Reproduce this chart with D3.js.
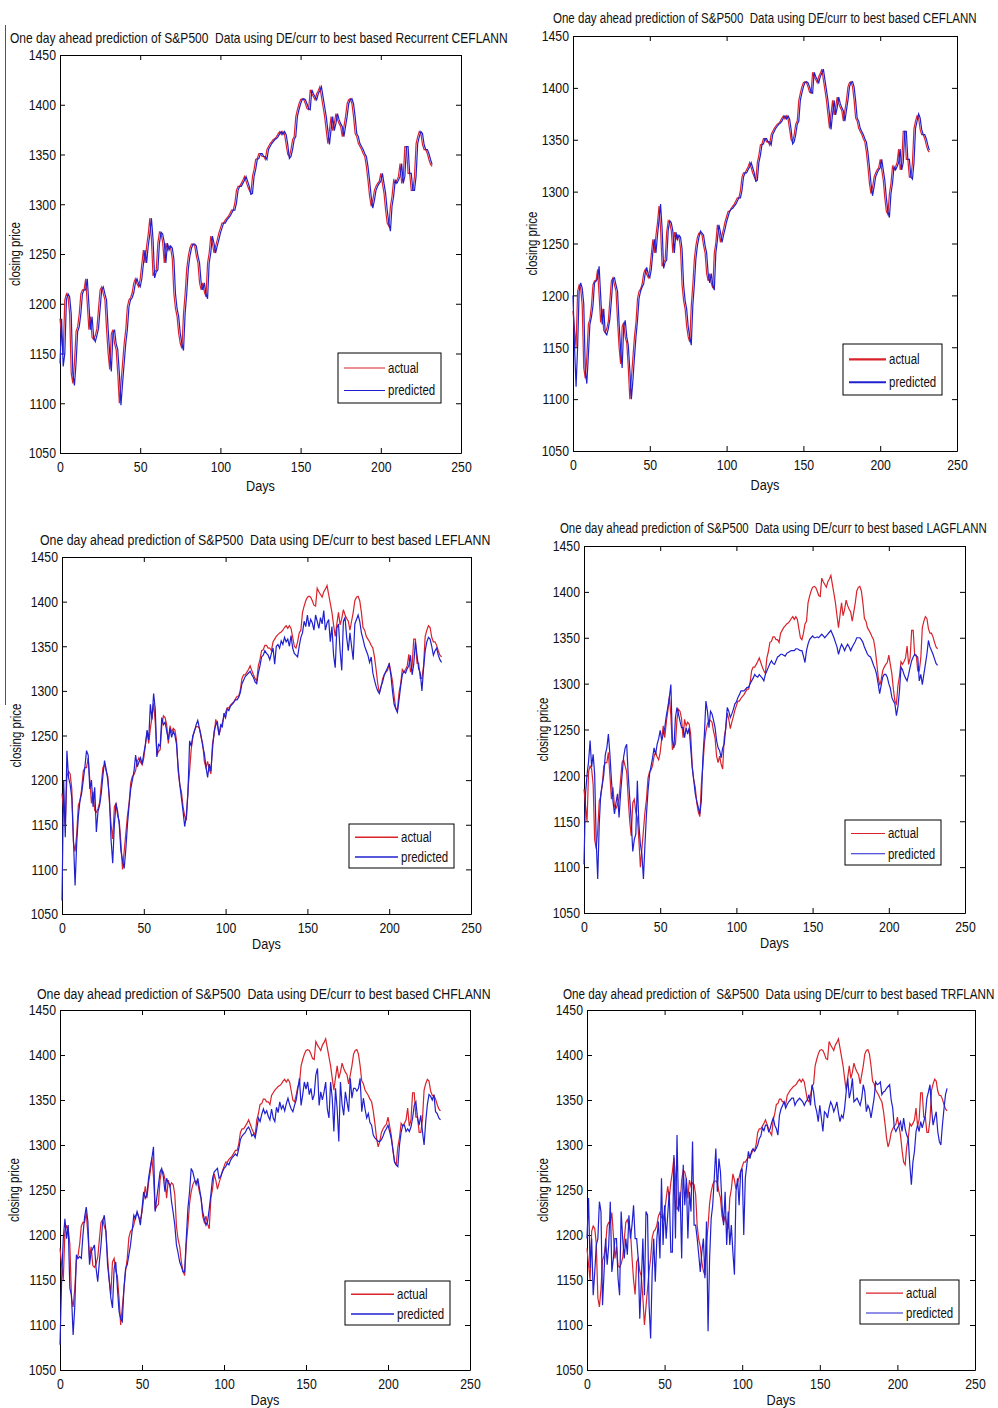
<!DOCTYPE html>
<html>
<head>
<meta charset="utf-8">
<script src="https://cdn.jsdelivr.net/npm/d3@7"></script>
<style>
  body { margin: 0; background: #fff; }
  text { font-family: "Liberation Sans", Arial, sans-serif; fill: #111; }
  .axis path, .axis line { stroke: #000; stroke-width: 1; }
</style>
</head>
<body>
<svg id="chart" width="998" height="1408"></svg>
<script>
// ----------------------------------------------
// Data
// ----------------------------------------------
const actualClose = [
  1185,1167,1150,1204,1210,1207,1190,1130,1120,1140,
  1172,1177,1190,1210,1214,1214,1225,1200,1174,1187,
  1166,1164,1168,1175,1195,1214,1217,1210,1204,1175,
  1150,1134,1170,1174,1160,1154,1130,1100,1120,1140,
  1160,1174,1197,1204,1206,1211,1221,1225,1220,1217,
  1225,1240,1254,1241,1258,1270,1286,1265,1228,1232,
  1234,1261,1272,1270,1262,1241,1261,1254,1258,1256,
  1245,1210,1195,1187,1170,1160,1155,1190,1210,1235,
  1248,1256,1260,1260,1258,1248,1241,1221,1214,1221,
  1212,1207,1241,1251,1268,1261,1251,1258,1264,1271,
  1276,1281,1281,1284,1286,1288,1291,1294,1294,1301,
  1314,1318,1318,1321,1324,1328,1323,1318,1314,1311,
  1328,1335,1345,1346,1351,1351,1348,1348,1345,1355,
  1358,1361,1363,1365,1366,1368,1371,1373,1370,1373,
  1370,1360,1350,1348,1355,1365,1368,1388,1395,1401,
  1405,1406,1405,1401,1396,1395,1415,1411,1408,1405,
  1411,1414,1418,1408,1398,1388,1374,1361,1375,1388,
  1374,1381,1391,1385,1381,1378,1368,1378,1388,1401,
  1405,1406,1401,1388,1371,1368,1361,1358,1355,1351,
  1348,1338,1324,1308,1298,1304,1314,1318,1321,1323,
  1331,1321,1311,1294,1281,1278,1298,1308,1324,1321,
  1324,1328,1341,1321,1328,1358,1358,1331,1331,1314,
  1314,1328,1361,1368,1373,1371,1360,1355,1355,1351,
  1345,1340,1338
];

const predRecurrentCEFLANN = [
  1140,1185,1137,1150,1204,1210,1207,1190,1130,1118,
  1140,1172,1177,1190,1210,1214,1214,1225,1200,1174,
  1187,1166,1162,1168,1175,1195,1214,1217,1210,1204,
  1175,1150,1132,1170,1174,1160,1154,1130,1098,1120,
  1140,1160,1174,1197,1204,1206,1211,1221,1225,1220,
  1217,1225,1240,1254,1241,1258,1270,1286,1265,1226,
  1232,1234,1261,1272,1270,1262,1241,1261,1254,1258,
  1256,1245,1210,1195,1187,1170,1160,1153,1190,1210,
  1235,1248,1256,1260,1260,1258,1248,1241,1221,1214,
  1221,1210,1205,1241,1251,1268,1261,1251,1258,1264,
  1271,1276,1281,1281,1284,1286,1288,1291,1294,1294,
  1301,1314,1318,1318,1321,1324,1328,1323,1318,1310,
  1311,1328,1335,1345,1346,1351,1351,1348,1348,1345,
  1355,1358,1361,1363,1365,1366,1368,1371,1373,1370,
  1373,1370,1360,1346,1348,1355,1365,1368,1388,1395,
  1401,1405,1406,1405,1401,1396,1395,1415,1411,1408,
  1405,1411,1414,1418,1408,1398,1388,1374,1360,1375,
  1388,1374,1381,1391,1385,1381,1378,1368,1378,1388,
  1401,1405,1406,1401,1388,1371,1368,1361,1358,1355,
  1351,1348,1338,1324,1308,1296,1304,1314,1318,1321,
  1323,1331,1321,1311,1294,1281,1273,1298,1308,1324,
  1321,1324,1328,1341,1321,1328,1358,1358,1331,1331,
  1314,1314,1328,1361,1368,1373,1371,1360,1355,1355,
  1351,1345,1340
];

const predCEFLANN = [
  1200,1150,1112,1150,1204,1212,1207,1192,1128,1115,
  1142,1172,1179,1190,1212,1214,1216,1228,1200,1172,
  1187,1164,1162,1168,1177,1195,1216,1217,1210,1204,
  1173,1148,1130,1170,1176,1160,1152,1128,1100,1118,
  1140,1160,1176,1197,1204,1208,1211,1221,1227,1220,
  1217,1225,1242,1254,1241,1258,1272,1288,1265,1226,
  1232,1234,1263,1272,1270,1262,1241,1261,1254,1258,
  1256,1245,1210,1195,1187,1170,1160,1152,1190,1210,
  1235,1248,1256,1262,1260,1258,1248,1241,1221,1212,
  1221,1210,1205,1241,1253,1268,1261,1251,1258,1264,
  1271,1276,1281,1283,1284,1286,1288,1291,1294,1294,
  1301,1314,1318,1318,1321,1324,1328,1323,1318,1310,
  1311,1328,1335,1345,1346,1351,1351,1348,1348,1345,
  1355,1358,1361,1363,1365,1366,1368,1371,1373,1370,
  1373,1370,1360,1346,1348,1355,1365,1368,1388,1395,
  1401,1405,1406,1405,1401,1396,1395,1415,1411,1408,
  1405,1411,1414,1418,1408,1398,1388,1374,1360,1375,
  1388,1374,1381,1391,1385,1381,1378,1368,1378,1388,
  1401,1405,1406,1401,1388,1371,1368,1361,1358,1355,
  1351,1348,1338,1324,1308,1296,1304,1314,1318,1321,
  1323,1331,1321,1311,1294,1281,1275,1298,1308,1324,
  1321,1324,1328,1341,1321,1328,1358,1358,1331,1331,
  1314,1312,1328,1361,1368,1375,1371,1360,1355,1355,
  1351,1345,1340
];

const predLEFLANN = [
  1065,1200,1136,1233,1203,1195,1180,1133,1082,1130,
  1160,1177,1185,1200,1215,1233,1228,1190,1200,1170,
  1192,1142,1165,1172,1185,1205,1222,1212,1200,1180,
  1133,1107,1150,1174,1165,1150,1121,1110,1101,1122,
  1150,1172,1190,1200,1210,1228,1215,1220,1225,1218,
  1230,1240,1256,1245,1285,1268,1297,1280,1226,1240,
  1238,1270,1262,1265,1255,1245,1258,1248,1255,1250,
  1240,1215,1195,1180,1165,1148,1160,1185,1244,1238,
  1250,1255,1262,1267,1258,1250,1238,1230,1215,1203,
  1218,1210,1235,1255,1262,1265,1250,1262,1260,1275,
  1270,1280,1278,1283,1285,1287,1290,1290,1293,1298,
  1308,1312,1316,1318,1320,1322,1318,1315,1310,1308,
  1320,1328,1338,1340,1345,1342,1340,1335,1342,1348,
  1330,1350,1352,1348,1356,1352,1360,1355,1358,1350,
  1362,1348,1342,1340,1338,1350,1360,1365,1378,1372,
  1385,1372,1380,1376,1368,1385,1378,1370,1382,1375,
  1390,1368,1376,1380,1355,1372,1340,1326,1370,1375,
  1345,1323,1378,1382,1360,1345,1365,1350,1335,1375,
  1380,1385,1378,1365,1358,1350,1345,1340,1332,1338,
  1320,1312,1305,1300,1297,1305,1310,1318,1322,1326,
  1330,1318,1300,1285,1280,1276,1290,1305,1318,1322,
  1320,1325,1328,1340,1318,1330,1355,1340,1325,1320,
  1300,1325,1345,1355,1360,1358,1350,1340,1345,1348,
  1340,1335,1332
];

const predLAGFLANN = [
  1103,1180,1201,1215,1238,1209,1223,1201,1129,1087,
  1147,1180,1190,1201,1223,1230,1245,1223,1195,1172,
  1158,1170,1180,1154,1180,1201,1220,1230,1234,1201,
  1175,1150,1117,1130,1136,1194,1147,1125,1114,1087,
  1125,1158,1183,1201,1210,1219,1230,1223,1234,1240,
  1249,1238,1245,1252,1265,1274,1285,1299,1238,1230,
  1263,1274,1267,1259,1252,1252,1241,1252,1245,1252,
  1230,1209,1195,1180,1172,1165,1158,1172,1219,1245,
  1281,1270,1252,1270,1267,1260,1252,1238,1230,1227,
  1219,1230,1234,1252,1274,1270,1263,1267,1272,1278,
  1280,1285,1288,1292,1292,1292,1294,1296,1296,1300,
  1303,1306,1310,1308,1307,1310,1308,1306,1303,1310,
  1314,1318,1322,1325,1322,1321,1325,1329,1330,1332,
  1332,1331,1330,1333,1334,1335,1336,1336,1336,1338,
  1338,1337,1336,1336,1330,1323,1336,1343,1348,1350,
  1352,1350,1350,1351,1350,1352,1354,1352,1350,1352,
  1354,1356,1358,1354,1350,1345,1340,1332,1338,1343,
  1340,1336,1340,1343,1340,1336,1340,1343,1346,1350,
  1350,1350,1348,1345,1340,1336,1332,1330,1329,1325,
  1320,1316,1310,1300,1289,1298,1307,1310,1310,1307,
  1300,1295,1285,1281,1278,1265,1275,1292,1318,1315,
  1310,1306,1303,1310,1318,1325,1329,1332,1330,1329,
  1303,1310,1299,1310,1321,1332,1347,1340,1336,1332,
  1327,1322,1320
];

const predCHFLANN = [
  1078,1150,1196,1218,1196,1211,1141,1133,1089,1120,
  1178,1174,1176,1174,1200,1220,1231,1215,1167,1181,
  1185,1189,1163,1148,1170,1189,1215,1222,1204,1167,
  1150,1130,1119,1163,1170,1141,1115,1107,1104,1141,
  1163,1167,1178,1189,1205,1222,1218,1226,1220,1211,
  1229,1248,1241,1245,1263,1275,1285,1298,1226,1241,
  1255,1270,1274,1265,1248,1263,1258,1256,1237,1225,
  1211,1189,1180,1170,1165,1159,1159,1196,1230,1248,
  1274,1270,1262,1256,1263,1252,1241,1226,1218,1211,
  1215,1229,1245,1263,1270,1272,1274,1263,1265,1270,
  1274,1276,1280,1278,1283,1286,1288,1290,1288,1296,
  1306,1310,1312,1314,1318,1320,1316,1310,1312,1308,
  1318,1330,1326,1334,1340,1335,1338,1332,1328,1340,
  1330,1326,1342,1336,1348,1340,1344,1338,1346,1352,
  1345,1340,1337,1344,1350,1362,1374,1344,1356,1370,
  1362,1370,1356,1363,1350,1356,1378,1385,1344,1359,
  1350,1359,1370,1340,1330,1370,1352,1315,1363,1340,
  1304,1370,1345,1333,1359,1348,1337,1374,1352,1363,
  1363,1360,1363,1374,1337,1352,1340,1330,1335,1325,
  1322,1311,1308,1306,1304,1304,1306,1310,1315,1318,
  1322,1315,1307,1295,1281,1278,1276,1300,1314,1322,
  1322,1315,1318,1315,1320,1330,1344,1348,1330,1322,
  1333,1315,1300,1326,1345,1356,1354,1350,1356,1337,
  1335,1330,1328
];

const predTRFLANN = [
  1196,1241,1163,1196,1133,1159,1189,1196,1237,1226,
  1122,1159,1196,1167,1189,1237,1159,1174,1196,1196,
  1152,1133,1226,1196,1174,1196,1178,1222,1196,1211,
  1233,1196,1196,1174,1107,1148,1196,1133,1226,1222,
  1122,1085,1159,1196,1148,1196,1215,1174,1263,1189,
  1233,1196,1222,1248,1181,1181,1289,1196,1311,1226,
  1248,1174,1278,1233,1263,1196,1248,1226,1304,1211,
  1211,1196,1178,1159,1181,1196,1152,1215,1093,1174,
  1218,1233,1263,1296,1248,1285,1270,1233,1211,1248,
  1189,1226,1189,1211,1181,1156,1248,1263,1233,1270,
  1274,1200,1263,1278,1293,1285,1293,1296,1293,1296,
  1300,1307,1310,1319,1316,1322,1322,1315,1318,1325,
  1330,1322,1318,1311,1333,1340,1344,1348,1341,1345,
  1348,1350,1352,1352,1344,1348,1350,1352,1350,1348,
  1344,1348,1350,1356,1344,1367,1359,1344,1337,1326,
  1344,1330,1315,1337,1335,1330,1341,1348,1344,1337,
  1342,1348,1336,1326,1333,1330,1341,1359,1374,1352,
  1360,1374,1348,1350,1352,1348,1344,1352,1367,1359,
  1337,1344,1340,1330,1341,1352,1370,1367,1368,1370,
  1356,1359,1360,1363,1365,1367,1350,1341,1319,1315,
  1319,1322,1326,1315,1330,1318,1311,1307,1278,1256,
  1281,1293,1315,1322,1315,1326,1319,1326,1333,1352,
  1359,1367,1340,1322,1330,1337,1315,1304,1300,1322,
  1340,1356,1363
];

const modelNames = ['Recurrent CEFLANN', 'CEFLANN', 'LEFLANN', 'LAGFLANN', 'CHFLANN', 'TRFLANN'];
const xTicks = [0, 50, 100, 150, 200, 250];
const yTicks = [1050, 1100, 1150, 1200, 1250, 1300, 1350, 1400, 1450];
const legendLabels = ['actual', 'predicted'];

// ----------------------------------------------
// Layout of the six panels (pixel boxes)
// ----------------------------------------------
const panels = [
  { pred: predRecurrentCEFLANN, box: [60, 55, 461, 453],    title: [10, 508, 43],   ylab: 20,  days: 491,  legend: [338, 353, 103, 50], legW: 1.2 },
  { pred: predCEFLANN,          box: [573, 36, 957, 451],   title: [553, 977, 23],  ylab: 537, days: 490,  legend: [843, 344, 99, 51],  legW: 2.2 },
  { pred: predLEFLANN,          box: [62, 557, 471, 914],   title: [40, 491, 545],  ylab: 21,  days: 949,  legend: [349, 824, 105, 44], legW: 1.5 },
  { pred: predLAGFLANN,         box: [584, 546, 965, 913],  title: [560, 987, 533], ylab: 548, days: 948,  legend: [845, 820, 96, 45],  legW: 1.2 },
  { pred: predCHFLANN,          box: [60, 1010, 470, 1370], title: [37, 491, 999],  ylab: 19,  days: 1405, legend: [345, 1281, 105, 44], legW: 1.5 },
  { pred: predTRFLANN,          box: [587, 1010, 975, 1370], title: [563, 995, 999], ylab: 548, days: 1405, legend: [860, 1280, 99, 44], legW: 1.2 }
];

const RED = '#d9222a';
const BLUE = '#2020d0';
const NARROW = 0.82;   // mimic the condensed MATLAB font

const svg = d3.select('#chart');
svg.append('rect').attr('width', 998).attr('height', 1408).attr('fill', '#fff');

// thin stray rule at the far left of the page
svg.append('line')
  .attr('x1', 5.5).attr('x2', 5.5).attr('y1', 25).attr('y2', 705)
  .attr('stroke', '#555').attr('stroke-width', 1);

// squeeze a text horizontally around its own anchor point
function squeeze(node, sx) {
  const t = d3.select(node);
  const ax = +t.attr('x') || 0;
  const prev = t.attr('transform') || '';
  t.attr('transform', `${prev} translate(${ax},0) scale(${sx},1) translate(${-ax},0)`);
}

function titleFor(i) {
  const of = i === 5 ? 'of  S&P500' : 'of S&P500';
  return `One day ahead prediction ${of}  Data using DE/curr to best based ${modelNames[i]}`;
}

function drawPanel(p, i) {
  const [x0, y0, x1, y1] = p.box;
  const x = d3.scaleLinear().domain([0, 250]).range([x0, x1]);
  const y = d3.scaleLinear().domain([1050, 1450]).range([y1, y0]);
  const g = svg.append('g');

  // axes, MATLAB style: ticks point inward on all four sides
  g.append('g').attr('class', 'axis').attr('transform', `translate(0,${y1})`)
    .call(d3.axisBottom(x).tickValues(xTicks).tickFormat(d3.format('d')).tickSize(-5).tickSizeOuter(0).tickPadding(8));
  g.append('g').attr('class', 'axis').attr('transform', `translate(0,${y0})`)
    .call(d3.axisTop(x).tickValues(xTicks).tickSize(-5).tickSizeOuter(0).tickFormat(''));
  g.append('g').attr('class', 'axis').attr('transform', `translate(${x0},0)`)
    .call(d3.axisLeft(y).tickValues(yTicks).tickFormat(d3.format('d')).tickSize(-5).tickSizeOuter(0).tickPadding(4));
  g.append('g').attr('class', 'axis').attr('transform', `translate(${x1},0)`)
    .call(d3.axisRight(y).tickValues(yTicks).tickSize(-5).tickSizeOuter(0).tickFormat(''));
  g.selectAll('.axis text').attr('font-size', 15).attr('fill', '#111').style('font-family', null)
    .each(function () { squeeze(this, NARROW); });

  // series
  const line = d3.line().x((d, k) => x(k)).y(d => y(d));
  g.append('path').datum(actualClose)
    .attr('d', line).attr('fill', 'none').attr('stroke', RED).attr('stroke-width', 1.2);
  g.append('path').datum(p.pred)
    .attr('d', line).attr('fill', 'none').attr('stroke', BLUE).attr('stroke-width', 1.2);

  // title, fitted to the width it has in the reference
  const [tx0, tx1, ty] = p.title;
  const title = g.append('text')
    .attr('x', tx0).attr('y', ty)
    .attr('font-size', 14.5)
    .style('white-space', 'pre')
    .text(titleFor(i));
  squeeze(title.node(), (tx1 - tx0) / title.node().getComputedTextLength());

  // axis labels
  const yl = g.append('text')
    .attr('transform', `translate(${p.ylab},${(y0 + y1) / 2}) rotate(-90)`)
    .attr('text-anchor', 'middle')
    .attr('font-size', 14)
    .text('closing price');
  squeeze(yl.node(), NARROW);
  const dl = g.append('text')
    .attr('x', (x0 + x1) / 2).attr('y', p.days)
    .attr('text-anchor', 'middle')
    .attr('font-size', 15.5)
    .text('Days');
  squeeze(dl.node(), NARROW);

  // legend
  const [lx, ly, lw, lh] = p.legend;
  const lg = g.append('g').attr('transform', `translate(${lx},${ly})`);
  lg.append('rect')
    .attr('width', lw).attr('height', lh)
    .attr('fill', '#fff').attr('stroke', '#000').attr('stroke-width', 1);
  legendLabels.forEach((lab, k) => {
    const yy = lh * (k === 0 ? 0.3 : 0.75);
    lg.append('line')
      .attr('x1', 6).attr('x2', lw - 56).attr('y1', yy).attr('y2', yy)
      .attr('stroke', k === 0 ? RED : BLUE).attr('stroke-width', p.legW);
    const lt = lg.append('text')
      .attr('x', lw - 53).attr('y', yy + 5)
      .attr('font-size', 14)
      .text(lab);
    squeeze(lt.node(), NARROW);
  });
}

panels.forEach(drawPanel);
</script>
</body>
</html>
